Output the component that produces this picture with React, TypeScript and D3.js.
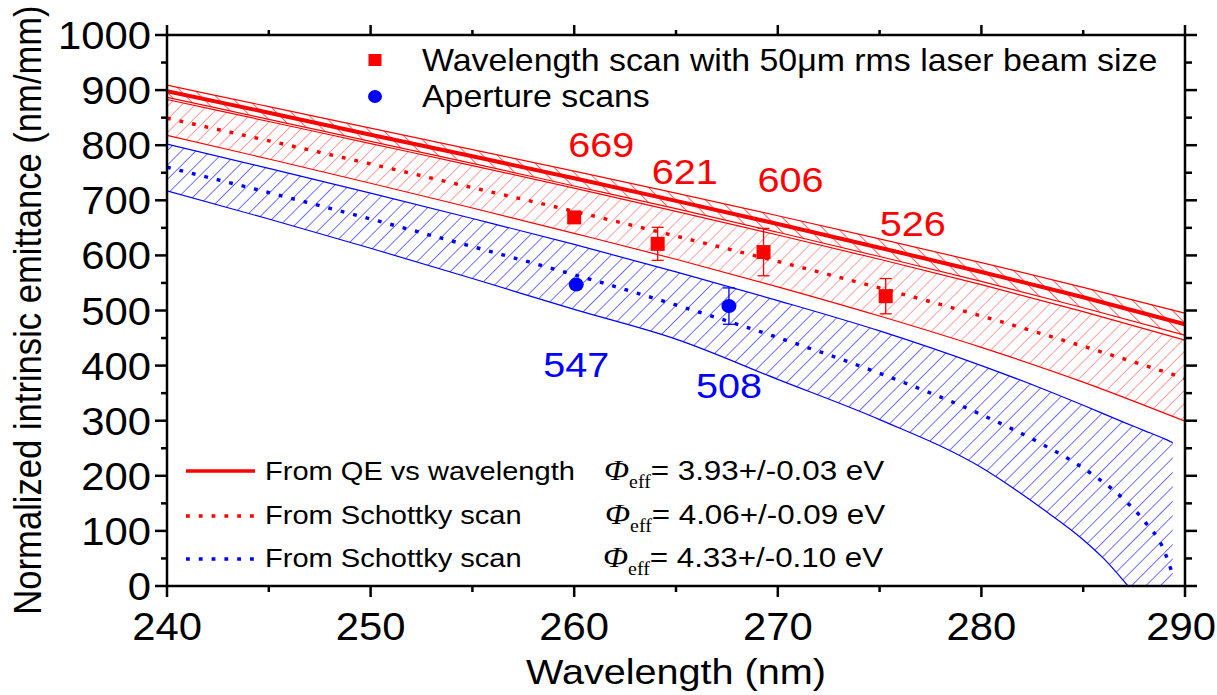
import React from 'react';
import * as d3 from 'd3';

// ---- data -------------------------------------------------------------
const WAVELENGTHS = [240, 245, 250, 255, 260, 265, 270, 275, 280, 285, 290];

// QE vs wavelength fit (Φeff = 3.93 ± 0.03 eV)
const QE_CURVE = [898, 859, 819, 780, 740, 699, 657, 614, 570, 524, 475];
const QE_UPPER = [909, 870, 831, 792, 753, 713, 672, 630, 587, 542, 495];
const QE_LOWER = [887, 847, 807, 767, 726, 685, 642, 598, 553, 505, 455];

// Schottky scan, red (Φeff = 4.06 ± 0.09 eV)
const SCHOTTKY_RED = [849, 808, 766, 723, 680, 635, 589, 541, 490, 435, 377];
const SCHOTTKY_RED_UPPER = [883, 843, 803, 763, 722, 680, 637, 593, 547, 498, 446];
const SCHOTTKY_RED_LOWER = [818, 775, 731, 686, 640, 593, 543, 490, 433, 370, 299];

// Schottky scan, blue (Φeff = 4.33 ± 0.10 eV)
const BLUE_WL = [240, 245, 250, 255, 260, 265, 270, 275, 280, 283, 285, 287, 288, 289, 289.4];
const SCHOTTKY_BLUE = [760, 714, 666, 616, 565, 510, 451, 386, 311, 257, 214, 157, 118, 62, 20];
const SCHOTTKY_BLUE_UPPER = [802, 758, 713, 667, 620, 570, 518, 463, 400, 358, 328, 297, 282, 267, 260];
const BLUE_LOWER_WL = [240, 245, 250, 255, 260, 265, 270, 275, 280, 283, 285, 286, 287.2];
const SCHOTTKY_BLUE_LOWER = [717, 666, 613, 558, 502, 448, 375, 302, 215, 140, 84, 50, 0];

// Measurements
const SCAN_WL = [260, 264.1, 269.3, 275.3];
const SCAN_EMIT = [669, 621, 606, 526];
const SCAN_ERR = [0, 30, 43, 32];
const APERTURE_WL = [260.1, 267.6];
const APERTURE_EMIT = [547, 508];
const APERTURE_ERR = [0, 33];

const X_TICKS = [240, 250, 260, 270, 280, 290];
const X_MINOR = [245, 255, 265, 275, 285];
const Y_TICKS = [0, 100, 200, 300, 400, 500, 600, 700, 800, 900, 1000];
const Y_MINOR = [50, 150, 250, 350, 450, 550, 650, 750, 850, 950];

// ---- layout -----------------------------------------------------------
const W = 1217;
const H = 695;
const L = 167;
const R = 1185;
const T = 35;
const B = 586;

const SANS = '"Liberation Sans", Arial, sans-serif';
const SERIF = '"Liberation Serif", "Times New Roman", serif';
const SX = 1.1; // horizontal glyph stretch

const RED = '#ff0000';
const PINK = '#ff6464';
const BLUE = '#0000ff';

const x = d3.scaleLinear().domain([240, 290]).range([L, R]);
const y = d3.scaleLinear().domain([0, 1000]).range([B, T]);

const line = d3
  .line<[number, number]>()
  .x((d) => x(d[0]))
  .y((d) => y(d[1]))
  .curve(d3.curveMonotoneX);

const zip = (a: number[], b: number[]) => a.map((v, i) => [v, b[i]] as [number, number]);

const band = (wl: number[], lo: number[], hi: number[]) =>
  d3
    .area<number>()
    .x((_, i) => x(wl[i]))
    .y0((_, i) => y(lo[i]))
    .y1((_, i) => y(hi[i]))
    .curve(d3.curveMonotoneX)(wl) as string;

function blueBandPath() {
  const upper = line(zip(BLUE_WL, SCHOTTKY_BLUE_UPPER)) as string;
  const lowerRev = zip(BLUE_LOWER_WL, SCHOTTKY_BLUE_LOWER).reverse();
  const lower = (line(lowerRev) as string).replace(/^M/, 'L');
  const xEnd = BLUE_WL[BLUE_WL.length - 1];
  const xZero = BLUE_LOWER_WL[BLUE_LOWER_WL.length - 1];
  return `${upper}L${x(xEnd)},${y(0)}L${x(xZero)},${y(0)}${lower}Z`;
}

type TxtProps = {
  x: number;
  y: number;
  size: number;
  anchor?: 'start' | 'middle' | 'end';
  fill?: string;
  rotate?: number;
  family?: string;
  children: React.ReactNode;
};

function Txt({ x: tx, y: ty, size, anchor = 'start', fill = '#000', rotate = 0, family = SANS, children }: TxtProps) {
  return (
    <text
      transform={`translate(${tx},${ty}) scale(${SX},1)${rotate ? ` rotate(${rotate})` : ''}`}
      textAnchor={anchor}
      fontSize={size}
      fill={fill}
      fontFamily={family}
    >
      {children}
    </text>
  );
}

function PhiLabel({ x0, y0, text }: { x0: number; y0: number; text: string }) {
  return (
    <text transform={`translate(${x0},${y0}) scale(${SX},1)`} fontSize={28.5} fontFamily={SANS} fill="#000">
      <tspan fontFamily={SERIF} fontStyle="italic" fontSize={30}>
        Φ
      </tspan>
      <tspan fontFamily={SERIF} fontSize={18} dy={8}>
        eff
      </tspan>
      <tspan dy={-8}>{text}</tspan>
    </text>
  );
}

export default function App() {
  const dotted = { strokeWidth: 3.4, strokeDasharray: '3.8 9', fill: 'none' } as const;

  return (
    <svg width={W} height={H} style={{ position: 'absolute', left: 0, top: 0, background: '#fff' }}>
      <defs>
        <clipPath id="plot-clip">
          <rect x={L} y={T} width={R - L} height={B - T} />
        </clipPath>
        <pattern id="hatch-qe" width={10.5} height={10.5} patternUnits="userSpaceOnUse" patternTransform="rotate(-45)">
          <line x1={0} y1={0} x2={0} y2={10.5} stroke={RED} strokeWidth={1.2} />
        </pattern>
        <pattern id="hatch-red" width={9.2} height={9.2} patternUnits="userSpaceOnUse" patternTransform="rotate(45)">
          <line x1={0} y1={0} x2={0} y2={9.2} stroke={PINK} strokeWidth={1.2} />
        </pattern>
        <pattern id="hatch-blue" width={10.2} height={10.2} patternUnits="userSpaceOnUse" patternTransform="rotate(45)">
          <line x1={0} y1={0} x2={0} y2={10.2} stroke={BLUE} strokeWidth={1.1} />
        </pattern>
      </defs>

      <g clipPath="url(#plot-clip)">
        {/* uncertainty bands */}
        <path d={blueBandPath()} fill="url(#hatch-blue)" />
        <path d={band(WAVELENGTHS, SCHOTTKY_RED_LOWER, SCHOTTKY_RED_UPPER)} fill="url(#hatch-red)" />
        <path d={band(WAVELENGTHS, QE_LOWER, QE_UPPER)} fill="#fff" />
        <path d={band(WAVELENGTHS, QE_LOWER, QE_UPPER)} fill="url(#hatch-qe)" />

        {/* band edges */}
        <path d={line(zip(BLUE_WL, SCHOTTKY_BLUE_UPPER)) as string} stroke={BLUE} strokeWidth={1.2} fill="none" />
        <path d={line(zip(BLUE_LOWER_WL, SCHOTTKY_BLUE_LOWER)) as string} stroke={BLUE} strokeWidth={1.2} fill="none" />
        <path d={line(zip(WAVELENGTHS, SCHOTTKY_RED_UPPER)) as string} stroke={RED} strokeWidth={1.2} fill="none" />
        <path d={line(zip(WAVELENGTHS, SCHOTTKY_RED_LOWER)) as string} stroke={RED} strokeWidth={1.2} fill="none" />
        <path d={line(zip(WAVELENGTHS, QE_UPPER)) as string} stroke={RED} strokeWidth={1.2} fill="none" />
        <path d={line(zip(WAVELENGTHS, QE_LOWER)) as string} stroke={RED} strokeWidth={1.2} fill="none" />

        {/* central curves */}
        <path d={line(zip(BLUE_WL, SCHOTTKY_BLUE)) as string} stroke={BLUE} {...dotted} />
        <path d={line(zip(WAVELENGTHS, SCHOTTKY_RED)) as string} stroke={RED} {...dotted} />
        <path d={line(zip(WAVELENGTHS, QE_CURVE)) as string} stroke={RED} strokeWidth={4} fill="none" />
      </g>

      {/* measurements */}
      {SCAN_WL.map((wl, i) => {
        const cx = x(wl);
        const cy = y(SCAN_EMIT[i]);
        const e = SCAN_ERR[i];
        return (
          <g key={`s${i}`}>
            {e > 0 && (
              <g stroke={RED} strokeWidth={1.3}>
                <line x1={cx} x2={cx} y1={y(SCAN_EMIT[i] + e)} y2={y(SCAN_EMIT[i] - e)} />
                <line x1={cx - 6} x2={cx + 6} y1={y(SCAN_EMIT[i] + e)} y2={y(SCAN_EMIT[i] + e)} />
                <line x1={cx - 6} x2={cx + 6} y1={y(SCAN_EMIT[i] - e)} y2={y(SCAN_EMIT[i] - e)} />
              </g>
            )}
            <rect x={cx - 7} y={cy - 7} width={14} height={14} fill={RED} />
            <Txt x={cx + 27} y={cy - 60} size={36} anchor="middle" fill={RED}>
              {SCAN_EMIT[i]}
            </Txt>
          </g>
        );
      })}
      {APERTURE_WL.map((wl, i) => {
        const cx = x(wl);
        const cy = y(APERTURE_EMIT[i]);
        const e = APERTURE_ERR[i];
        return (
          <g key={`a${i}`}>
            {e > 0 && (
              <g stroke={BLUE} strokeWidth={1.3}>
                <line x1={cx} x2={cx} y1={y(APERTURE_EMIT[i] + e)} y2={y(APERTURE_EMIT[i] - e)} />
                <line x1={cx - 6} x2={cx + 6} y1={y(APERTURE_EMIT[i] + e)} y2={y(APERTURE_EMIT[i] + e)} />
                <line x1={cx - 6} x2={cx + 6} y1={y(APERTURE_EMIT[i] - e)} y2={y(APERTURE_EMIT[i] - e)} />
              </g>
            )}
            <ellipse cx={cx} cy={cy} rx={7.5} ry={7} fill={BLUE} />
            <Txt x={cx} y={cy + 92} size={36} anchor="middle" fill={BLUE}>
              {APERTURE_EMIT[i]}
            </Txt>
          </g>
        );
      })}

      {/* axes frame and ticks */}
      <g stroke="#000" strokeWidth={2.5} fill="none">
        <rect x={L} y={T} width={R - L} height={B - T} />
        {X_TICKS.map((v) => (
          <g key={`xt${v}`}>
            <line x1={x(v)} x2={x(v)} y1={B} y2={B + 11} />
            <line x1={x(v)} x2={x(v)} y1={T} y2={T - 10} />
          </g>
        ))}
        {X_MINOR.map((v) => (
          <g key={`xm${v}`}>
            <line x1={x(v)} x2={x(v)} y1={B} y2={B + 6} />
            <line x1={x(v)} x2={x(v)} y1={T} y2={T - 5} />
          </g>
        ))}
        {Y_TICKS.map((v) => (
          <g key={`yt${v}`}>
            <line x1={L} x2={L - 12} y1={y(v)} y2={y(v)} />
            <line x1={R} x2={R + 12} y1={y(v)} y2={y(v)} />
          </g>
        ))}
        {Y_MINOR.map((v) => (
          <g key={`ym${v}`}>
            <line x1={L} x2={L - 6} y1={y(v)} y2={y(v)} />
            <line x1={R} x2={R + 7} y1={y(v)} y2={y(v)} />
          </g>
        ))}
      </g>

      {/* tick labels */}
      {X_TICKS.map((v) => (
        <Txt key={`xl${v}`} x={Math.min(x(v), W - 36)} y={640} size={38} anchor="middle">
          {v}
        </Txt>
      ))}
      {Y_TICKS.map((v) => (
        <Txt key={`yl${v}`} x={151} y={y(v) + 14} size={38} anchor="end">
          {v}
        </Txt>
      ))}

      {/* axis titles */}
      <Txt x={(L + R) / 2} y={684} size={36} anchor="middle">
        Wavelength (nm)
      </Txt>
      <Txt x={41} y={310} size={34.6} anchor="middle" rotate={-90}>
        Normalized intrinsic emittance (nm/mm)
      </Txt>

      {/* marker legend */}
      <rect x={368.5} y={54} width={13} height={12} fill={RED} />
      <ellipse cx={375} cy={96.5} rx={7} ry={6.5} fill={BLUE} />
      <Txt x={422} y={71} size={30.8}>
        Wavelength scan with 50μm rms laser beam size
      </Txt>
      <Txt x={422} y={107} size={30.8}>
        Aperture scans
      </Txt>

      {/* curve legend */}
      <line x1={186} x2={255} y1={471} y2={471} stroke={RED} strokeWidth={3.5} />
      <line x1={186} x2={255} y1={516} y2={516} stroke={RED} {...dotted} />
      <line x1={186} x2={255} y1={559} y2={559} stroke={BLUE} {...dotted} />
      <Txt x={265} y={480} size={26.4}>
        From QE vs wavelength
      </Txt>
      <Txt x={265} y={524} size={26.4}>
        From Schottky scan
      </Txt>
      <Txt x={265} y={567} size={26.4}>
        From Schottky scan
      </Txt>
      <PhiLabel x0={604} y0={480} text="= 3.93+/-0.03 eV" />
      <PhiLabel x0={605} y0={524} text="= 4.06+/-0.09 eV" />
      <PhiLabel x0={603} y0={567} text="= 4.33+/-0.10 eV" />
    </svg>
  );
}
